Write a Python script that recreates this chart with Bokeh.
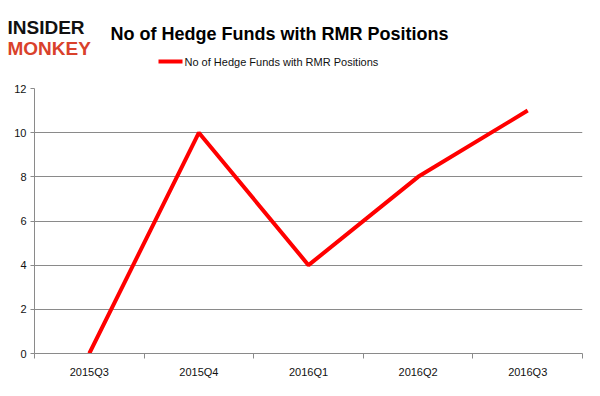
from bokeh.plotting import figure
from bokeh.layouts import column
from bokeh.models import (ColumnDataSource, Range1d, FixedTicker, Label, BoxAnnotation)
from bokeh.embed import file_html
from bokeh.resources import INLINE

categories = ["2015Q3", "2015Q4", "2016Q1", "2016Q2", "2016Q3"]
hedge_funds = [0, 10, 4, 8, 11]
series_name = "No of Hedge Funds with RMR Positions"
title_text = "No of Hedge Funds with RMR Positions"
y_ticks = [0, 2, 4, 6, 8, 10, 12]

xs = [i + 0.5 for i in range(len(categories))]
source = ColumnDataSource(dict(x=xs, y=hedge_funds, cat=categories))

GRAY = "#8a8a8a"
RED = "#ff0000"
FONT = "Liberation Sans"
W = 584
HEAD_H = 70

# ---- header (logo, title, legend)
h = figure(width=W, height=HEAD_H, output_backend="svg", toolbar_location=None,
           x_range=Range1d(0, W), y_range=Range1d(0, HEAD_H),
           min_border=0, x_axis_location=None, y_axis_location=None)
h.frame_align = False
h.outline_line_color = None
h.xgrid.visible = False
h.ygrid.visible = False
h.add_layout(Label(x=279, y=HEAD_H - 33, x_units="screen", y_units="screen", text=title_text,
                   text_align="center", text_baseline="alphabetic",
                   text_font=FONT, text_font_size="18px", text_font_style="bold",
                   text_color="#000000"))
h.add_layout(Label(x=7, y=HEAD_H - 27, x_units="screen", y_units="screen", text="INSIDER",
                   text_align="left", text_baseline="alphabetic",
                   text_font=FONT, text_font_size="19px", text_font_style="bold",
                   text_color="#111111"))
h.add_layout(Label(x=7, y=HEAD_H - 48, x_units="screen", y_units="screen", text="MONKEY",
                   text_align="left", text_baseline="alphabetic",
                   text_font=FONT, text_font_size="19px", text_font_style="bold",
                   text_color="#d9412b"))
# legend swatch + label
h.add_layout(BoxAnnotation(left=158, right=182, bottom=HEAD_H - 63, top=HEAD_H - 59,
                           left_units="screen", right_units="screen",
                           bottom_units="screen", top_units="screen",
                           fill_color=RED, fill_alpha=1, line_color=None))
h.add_layout(Label(x=184, y=HEAD_H - 61, x_units="screen", y_units="screen", text=series_name,
                   text_align="left", text_baseline="middle",
                   text_font=FONT, text_font_size="11px", text_color="#111111"))

# ---- main chart
p = figure(width=W, height=380 - HEAD_H, output_backend="svg", toolbar_location=None,
           x_range=Range1d(0, len(categories)), y_range=Range1d(0, 12),
           min_border_left=34, min_border_right=2, min_border_top=18, min_border_bottom=24)
p.frame_align = False
p.outline_line_color = None
p.background_fill_color = "white"
p.border_fill_color = "white"

p.line("x", "y", source=source, line_color=RED, line_width=4)

p.xaxis.ticker = FixedTicker(ticks=xs, minor_ticks=list(range(len(categories) + 1)))
p.xaxis.major_label_overrides = {x: c for x, c in zip(xs, categories)}
p.xaxis.major_tick_out = 0
p.xaxis.major_tick_in = 0
p.xaxis.minor_tick_out = 5
p.xaxis.minor_tick_in = 0
p.xaxis.minor_tick_line_color = GRAY
p.xaxis.axis_line_color = GRAY
p.xaxis.major_label_standoff = 7
p.xaxis.major_label_text_font = FONT
p.xaxis.major_label_text_font_size = "11px"
p.xaxis.major_label_text_color = "#111111"

p.yaxis.ticker = FixedTicker(ticks=y_ticks)
p.yaxis.major_tick_out = 4
p.yaxis.major_tick_in = 0
p.yaxis.minor_tick_out = 0
p.yaxis.minor_tick_in = 0
p.yaxis.major_tick_line_color = GRAY
p.yaxis.axis_line_color = GRAY
p.yaxis.major_label_standoff = 4
p.yaxis.major_label_text_font = FONT
p.yaxis.major_label_text_font_size = "11px"
p.yaxis.major_label_text_color = "#111111"

p.xgrid.grid_line_color = None
p.ygrid.grid_line_color = GRAY
p.ygrid.ticker = FixedTicker(ticks=y_ticks)

layout = column(h, p, spacing=0)
open("out.html", "w").write(file_html(layout, INLINE))
